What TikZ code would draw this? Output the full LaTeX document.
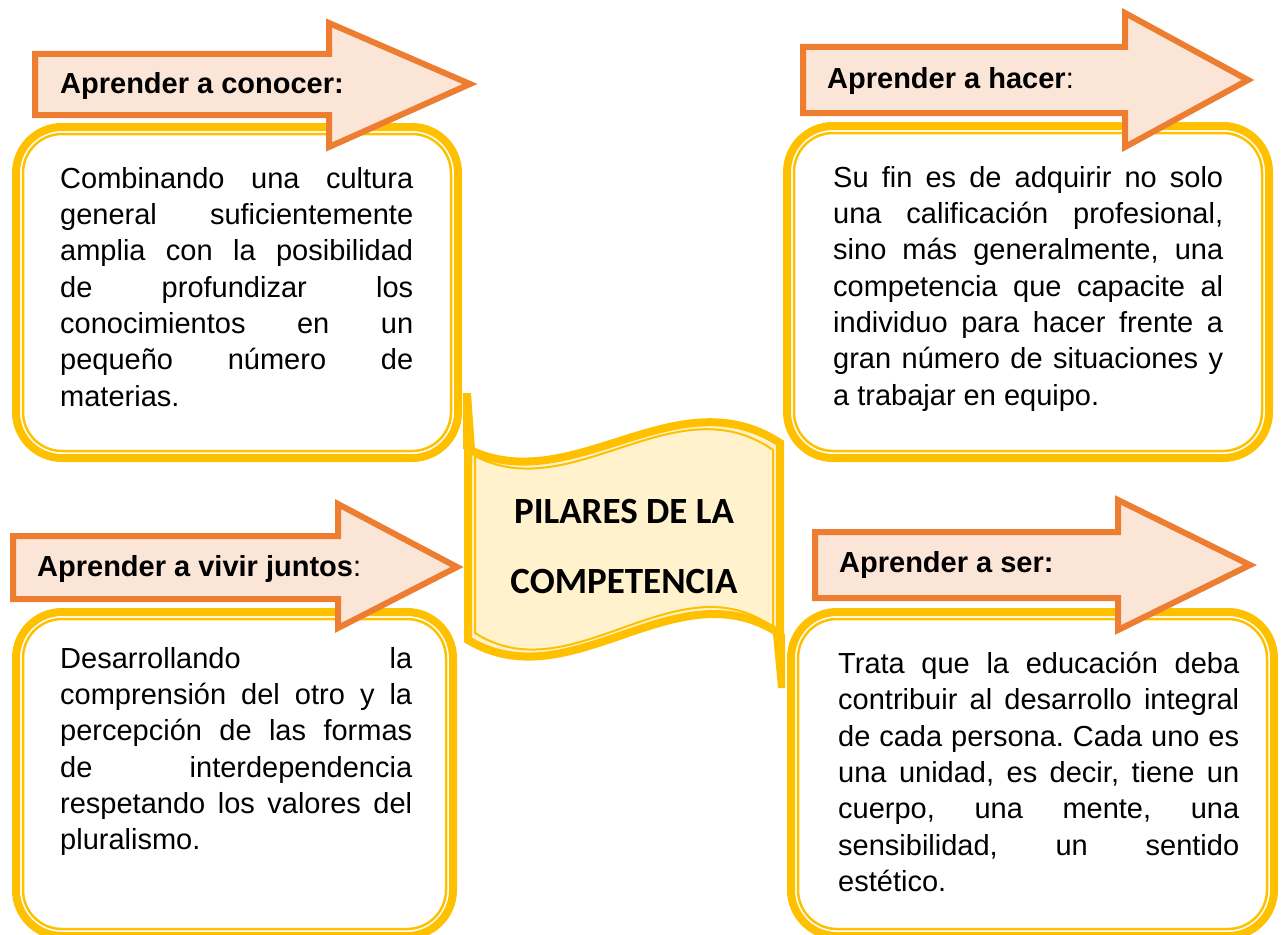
\documentclass[tikz,border=0pt]{standalone}
\usepackage{fontspec}
\setmainfont{Liberation Sans}
\newfontfamily\titlefont{Carlito}
\frenchspacing
\definecolor{gold}{HTML}{FFC000}
\definecolor{pumpkin}{HTML}{ED7D31}
\definecolor{peach}{HTML}{FBE5D6}
\definecolor{cream}{HTML}{FFF2CC}
\tikzset{
  outerline/.style={draw=gold, line width=8pt, rounded corners=46pt},
  innerline/.style={draw=gold, line width=2.5pt, rounded corners=39pt},
  arrowbox/.style={draw=pumpkin, fill=peach, line width=6pt, line join=miter},
  headtxt/.style={anchor=base west, inner sep=0pt, font=\fontsize{29}{35}\selectfont\bfseries},
  bodytxt/.style={anchor=north west, inner sep=0pt, text width=#1, align=justify,
    font=\fontsize{29}{36.3}\selectfont,
    execute at begin node={\frenchspacing\tolerance=10000\relax\hyphenpenalty=10000\relax\hbadness=10000\relax}},
  scrollline/.style={draw=gold, line width=8pt, fill=cream},
  titletxt/.style={align=center, inner sep=0pt, font=\titlefont\fontsize{37}{70}\selectfont\bfseries}
}
\begin{document}
\begin{tikzpicture}[x=1pt, y=-1pt]
	\useasboundingbox (0,0) rectangle (1281,934);
	\clip (0,0) rectangle (1281,934);
	
	% cajas
	\draw[outerline] (16,127) rectangle (458,458);
	\draw[innerline] (23,134) rectangle (451,451);
	\draw[outerline] (787,126) rectangle (1269,458);
	\draw[innerline] (794,133) rectangle (1262,451);
	\draw[outerline] (16,612) rectangle (453,936);
	\draw[innerline] (23,619) rectangle (446,929);
	\draw[outerline] (791,612) rectangle (1274,936);
	\draw[innerline] (798,619) rectangle (1267,929);
	
	% flechas
	\draw[arrowbox] (35,54) -- (329,54) -- (329,23) -- (470,84) -- (329,147) -- (329,115) -- (35,115) -- cycle;
	\draw[arrowbox] (803,47) -- (1125,47) -- (1125,13) -- (1248,80) -- (1125,147) -- (1125,113) -- (803,113) -- cycle;
	\draw[arrowbox] (13,536) -- (338,536) -- (338,504) -- (457,567) -- (338,628) -- (338,599) -- (13,599) -- cycle;
	\draw[arrowbox] (815,532) -- (1118,532) -- (1118,500) -- (1250,565) -- (1118,630) -- (1118,598) -- (815,598) -- cycle;
	
	\node[headtxt] (conocer) at (60,93) {Aprender a conocer:};
	\node[headtxt] (hacer) at (827,88) {Aprender a hacer{\mdseries:}};
	\node[headtxt] (vivir) at (37,576) {Aprender a vivir juntos{\mdseries:}};
	\node[headtxt] (ser) at (839,572) {Aprender a ser:};
	
	\node[bodytxt=353pt] (tconocer) at (60,167) {Combinando una cultura\linebreak general suficientemente\linebreak amplia con la posibilidad\linebreak de profundizar los\linebreak conocimientos en un\linebreak pequeño número de\linebreak materias.};
	\node[bodytxt=390pt] (thacer) at (833,166) {Su fin es de adquirir no solo\linebreak una calificación profesional,\linebreak sino más generalmente, una\linebreak competencia que capacite al\linebreak individuo para hacer frente a\linebreak gran número de situaciones y\linebreak a trabajar en equipo.};
	\node[bodytxt=352pt] (tvivir) at (60,647) {Desarrollando la\linebreak comprensión del otro y la\linebreak percepción de las formas\linebreak de interdependencia\linebreak respetando los valores del\linebreak pluralismo.};
	\node[bodytxt=401pt] (tser) at (838,652) {Trata que la educación deba\linebreak contribuir al desarrollo integral\linebreak de cada persona. Cada uno es\linebreak una unidad, es decir, tiene un\linebreak cuerpo, una mente, una\linebreak sensibilidad, un sentido\linebreak estético.};
	
	% pergamino central
	\fill[gold] (463,393) -- (471,393) -- (475,449) -- (463,449) -- cycle;
	\fill[gold] (773,634) -- (785,634) -- (785,688) -- (778,688) -- cycle;
	\draw[scrollline] (468,449) .. controls (572,500) and (676,375) .. (780,443) -- (780,634) .. controls (676,565) and (572,702) .. (468,640) -- cycle;
	\draw[draw=gold, line width=2pt] (475,456) .. controls (572,507) and (676,382) .. (773,450) -- (773,627) .. controls (676,558) and (572,695) .. (475,633) -- cycle;
	\node[titletxt] (pilares) at (624,546) {PILARES DE LA\\COMPETENCIA};
\end{tikzpicture}
\end{document}
